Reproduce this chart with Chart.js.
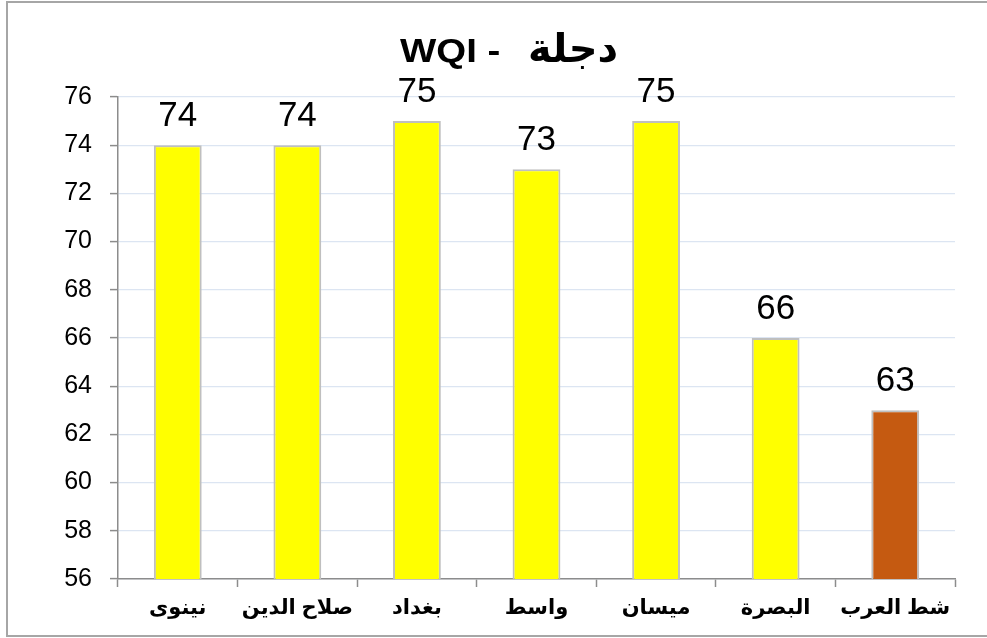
<!DOCTYPE html>
<html>
<head>
<meta charset="utf-8">
<script src="https://cdn.jsdelivr.net/npm/chart.js@4.4.1/dist/chart.umd.min.js"></script>
<style>
  html, body { margin: 0; padding: 0; background: #ffffff; }
  #wrap { width: 987px; height: 638px; position: relative; }
</style>
</head>
<body>
<div id="wrap"><canvas id="c" width="987" height="638"></canvas></div>
<script>
const categories = ["نينوى", "صلاح الدين", "بغداد", "واسط", "ميسان", "البصرة", "شط العرب"];
const values = [74, 74, 75, 73, 75, 66, 63];
const barColors = ["#ffff00", "#ffff00", "#ffff00", "#ffff00", "#ffff00", "#ffff00", "#c55a11"];
const yMin = 56, yMax = 76, yStep = 2;
const titleLatin = "WQI -";
const titleArabic = "دجلة";

const FONT = "'Liberation Sans', Arial, 'DejaVu Sans', sans-serif";

const framePlugin = {
  id: 'frame',
  beforeDraw(chart) {
    const ctx = chart.ctx;
    ctx.save();
    ctx.fillStyle = '#ffffff';
    ctx.fillRect(0, 0, chart.width, chart.height);
    ctx.strokeStyle = '#a6a6a6';
    ctx.lineWidth = 2;
    ctx.beginPath();
    ctx.moveTo(995, 2);
    ctx.lineTo(7, 2);
    ctx.lineTo(7, 636);
    ctx.lineTo(995, 636);
    ctx.stroke();
    ctx.restore();
  }
};

const titlePlugin = {
  id: 'customTitle',
  afterDraw(chart) {
    const ctx = chart.ctx;
    ctx.save();
    ctx.fillStyle = '#000000';
    ctx.font = "bold 34px " + FONT;
    ctx.textBaseline = 'alphabetic';
    ctx.save();
    ctx.translate(400, 62);
    ctx.scale(1.13, 1);
    ctx.textAlign = 'left';
    ctx.fillText(titleLatin, 0, 0);
    ctx.restore();
    ctx.font = "bold 40px " + FONT;
    ctx.textAlign = 'right';
    ctx.fillText(titleArabic, 618, 62);
    ctx.restore();
  }
};

const labelPlugin = {
  id: 'valueLabels',
  afterDatasetsDraw(chart) {
    const ctx = chart.ctx;
    const meta = chart.getDatasetMeta(0);
    ctx.save();
    ctx.fillStyle = '#000000';
    ctx.font = "35px " + FONT;
    ctx.textAlign = 'center';
    ctx.textBaseline = 'alphabetic';
    meta.data.forEach((bar, i) => {
      ctx.fillText(String(values[i]), bar.x, bar.y - 19);
    });
    ctx.restore();
  }
};

new Chart(document.getElementById('c'), {
  type: 'bar',
  data: {
    labels: categories,
    datasets: [{
      data: values,
      backgroundColor: barColors,
      borderColor: '#bfbfbf',
      borderWidth: 2,
      barPercentage: 0.4,
      categoryPercentage: 1.0
    }]
  },
  options: {
    responsive: false,
    animation: false,
    devicePixelRatio: 1,
    layout: { padding: { left: 0, right: 32, top: 97, bottom: 0 } },
    plugins: {
      legend: { display: false },
      title: { display: false },
      tooltip: { enabled: false }
    },
    scales: {
      x: {
        grid: {
          offset: true,
          drawOnChartArea: false,
          drawTicks: true,
          tickLength: 8,
          tickColor: '#8c8c8c',
          tickWidth: 1.5
        },
        border: { display: true, color: '#8c8c8c', width: 1.5 },
        ticks: {
          color: '#000000',
          font: { family: FONT, size: 21, weight: 'bold' },
          padding: 9,
          maxRotation: 0,
          autoSkip: false
        },
        afterFit(scale) { scale.height = 59; }
      },
      y: {
        min: yMin,
        max: yMax,
        grid: {
          color: '#dce5f2',
          lineWidth: 1.2,
          drawTicks: true,
          tickLength: 8,
          tickColor: '#8c8c8c',
          tickWidth: 1.5
        },
        border: { display: true, color: '#8c8c8c', width: 1.5 },
        ticks: {
          stepSize: yStep,
          color: '#000000',
          font: { family: FONT, size: 25 },
          padding: 18
        },
        afterFit(scale) { scale.width = 118; }
      }
    }
  },
  plugins: [framePlugin, titlePlugin, labelPlugin]
});
</script>
</body>
</html>
